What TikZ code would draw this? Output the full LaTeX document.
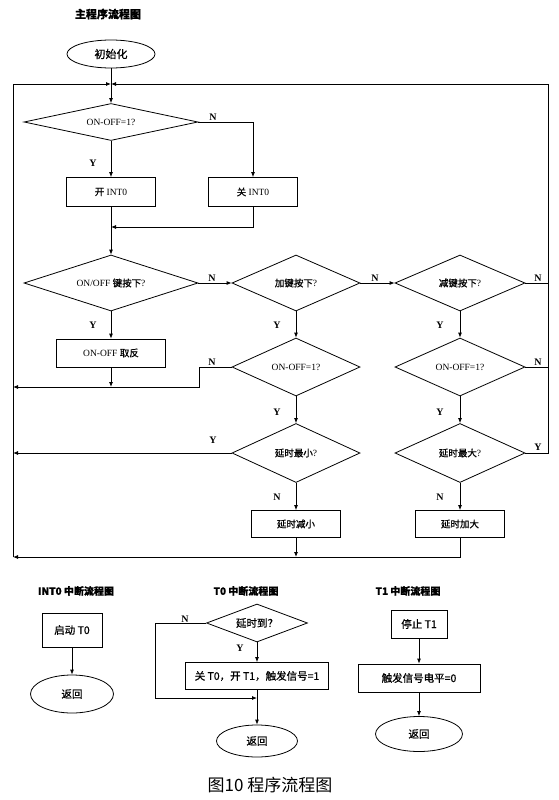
\documentclass[tikz,border=0pt]{standalone}
\usepackage{fontspec}
\setmainfont{Liberation Serif}
\newfontfamily\cjfont{Noto Sans CJK SC}[FakeBold=0.8]
\newcommand\zh[1]{{\cjfont #1}}
\usetikzlibrary{shapes.geometric,arrows.meta}
\begin{document}
\begin{tikzpicture}[x=1pt,y=-1pt,line width=0.8pt,
  every node/.style={inner sep=0pt,font=\fontsize{9.5}{11}\selectfont},
  box/.style args={#1/#2}{draw,rectangle,minimum width=#1,minimum height=#2},
  dec/.style args={#1/#2}{draw,diamond,minimum width=#1,minimum height=#2,aspect=2.5},
  term/.style args={#1/#2}{draw,ellipse,minimum width=#1,minimum height=#2},
  arr/.style={-{Latex[length=5pt,width=4pt]}},
  yn/.style={font=\fontsize{10}{12}\selectfont\bfseries},
  ttl/.style={font=\fontsize{11}{13}\selectfont\bfseries},
  small/.style={font=\fontsize{10.5}{12}\selectfont}]
\fill[white] (0,0) rectangle (558,800);
\useasboundingbox (0,0) rectangle (558,800);

% ---------- main program ----------
\node[ttl] (t0) at (108,14) {\zh{主程序流程图}};
\node[term=88pt/28pt,font=\fontsize{11}{13}\selectfont] (init) at (111,54) {\zh{初始化}};
\node[dec=174pt/37pt] (d1) at (111,122) {ON-OFF=1?};
\node[box=89pt/29pt] (b1) at (111,192) {\zh{开} INT0};
\node[box=89pt/29pt] (b2) at (253,192) {\zh{关} INT0};
\node[dec=174pt/56pt] (d2) at (111,283) {ON/OFF \zh{键按下}?};
\node[dec=128pt/56pt] (d3) at (296,283) {\zh{加键按下}?};
\node[dec=130pt/56pt] (d4) at (460,283) {\zh{减键按下}?};
\node[box=109pt/28pt] (b3) at (111,353) {ON-OFF \zh{取反}};
\node[dec=128pt/58pt] (d5) at (296,367) {ON-OFF=1?};
\node[dec=130pt/58pt] (d6) at (460,367) {ON-OFF=1?};
\node[dec=128pt/59pt] (d7) at (296,453) {\zh{延时最小}?};
\node[dec=130pt/59pt] (d8) at (460,453) {\zh{延时最大}?};
\node[box=89pt/27pt] (b4) at (296,524) {\zh{延时减小}};
\node[box=89pt/27pt] (b5) at (460,524) {\zh{延时加大}};

\coordinate (j0) at (111,84);
\coordinate (cL) at (13,84);
\coordinate (cR) at (548,84);
\coordinate (j1) at (111,227);
\coordinate (j2) at (111,387);
\coordinate (j3) at (296,557);
\coordinate (L1) at (13,387);
\coordinate (L2) at (13,453);
\coordinate (L3) at (13,557);
\coordinate (R1) at (548,283);
\coordinate (R2) at (548,367);
\coordinate (R3) at (548,453);
\coordinate (k1) at (199,367);
\coordinate (k2) at (199,387);
\coordinate (k3) at (253,227);
\coordinate (k4) at (460,557);

\draw[arr] (init) -- (d1);
\draw[arr] (L3) -- (cL) -- (j0);
\draw[arr] (d8.east) -- (R3) -- (cR) -- (j0);
\draw (d4.east) -- (R1);
\draw (d6.east) -- (R2);
\draw[arr] (d1) -- (b1);
\draw[arr] (d1.east) -| (b2.north);
\draw[arr] (b2.south) -- (k3) -- (j1);
\draw[arr] (b1) -- (d2);
\draw[arr] (d2) -- (d3);
\draw[arr] (d3) -- (d4);
\draw[arr] (d2) -- (b3);
\draw[arr] (d3) -- (d5);
\draw[arr] (d4) -- (d6);
\draw[arr] (b3.south) -- (j2);
\draw[arr] (d5.west) -- (k1) -- (k2) -- (L1);
\draw[arr] (d5) -- (d7);
\draw[arr] (d6) -- (d8);
\draw[arr] (d7.west) -- (L2);
\draw[arr] (d7) -- (b4);
\draw[arr] (d8) -- (b5);
\draw[arr] (b4.south) -- (j3);
\draw[arr] (b5.south) -- (k4) -- (L3);

\node[yn] (n1) at (213,117) {N};
\node[yn] (y1) at (93,163) {Y};
\node[yn] (n2) at (212,278) {N};
\node[yn] (n3) at (375,278) {N};
\node[yn] (n4) at (538,278) {N};
\node[yn] (y2) at (93,325) {Y};
\node[yn] (y3) at (277,325) {Y};
\node[yn] (y4) at (440,325) {Y};
\node[yn] (n5) at (212,362) {N};
\node[yn] (n6) at (538,362) {N};
\node[yn] (y5) at (277,412) {Y};
\node[yn] (y6) at (440,412) {Y};
\node[yn] (y7) at (213,440) {Y};
\node[yn] (y8) at (538,447) {Y};
\node[yn] (n7) at (277,497) {N};
\node[yn] (n8) at (440,497) {N};

% ---------- INT0 ----------
\node[ttl,font=\fontsize{10}{12}\selectfont\bfseries] (t1) at (76,591) {\zh{INT0 中断流程图}};
\node[box=60pt/34pt,small] (b6) at (72,630) {\zh{启动 T0}};
\node[term=83pt/38pt,small] (e1) at (72,694) {\zh{返回}};
\draw[arr] (b6) -- (e1);

% ---------- T0 ----------
\node[ttl,font=\fontsize{10}{12}\selectfont\bfseries] (t2) at (246,591) {\zh{T0 中断流程图}};
\node[dec=101pt/38pt,small] (d9) at (257,623) {\zh{延时到？}};
\node[box=143pt/27pt,small] (b7) at (257,676) {\zh{关 T0，开 T1，触发信号=1}};
\node[term=81pt/32pt,small] (e2) at (257,741) {\zh{返回}};
\coordinate (m1) at (155,623);
\coordinate (m2) at (155,698);
\coordinate (j4) at (257,698);
\draw[arr] (d9) -- (b7);
\draw[arr] (b7) -- (e2);
\draw[arr] (d9.west) -- (m1) -- (m2) -- (j4);
\node[yn] (n9) at (185,619) {N};
\node[yn] (y9) at (240,648) {Y};

% ---------- T1 ----------
\node[ttl,font=\fontsize{10}{12}\selectfont\bfseries] (t3) at (408,591) {\zh{T1 中断流程图}};
\node[box=56pt/28pt,small] (b8) at (419,624) {\zh{停止 T1}};
\node[box=122pt/28pt,small] (b9) at (419,678) {\zh{触发信号电平=0}};
\node[term=87pt/35pt,small] (e3) at (419,734) {\zh{返回}};
\draw[arr] (b8) -- (b9);
\draw[arr] (b9) -- (e3);

% ---------- caption ----------
\node[font=\fontsize{17}{20}\selectfont] (cap) at (270,785) {{\fontspec{Noto Sans CJK SC}图10 程序流程图}};
\end{tikzpicture}
\end{document}
